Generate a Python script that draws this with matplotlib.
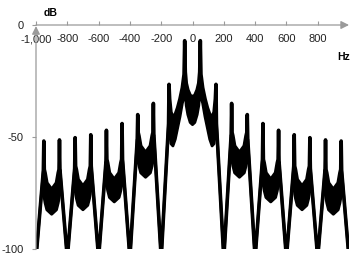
import matplotlib
matplotlib.use("Agg")
import matplotlib.pyplot as plt
import numpy as np

plt.rcParams['font.family'] = ['Liberation Sans', 'DejaVu Sans']

# right half of the spectrum (Hz); left half is its mirror
freq = [0, 15, 30, 40, 46, 50, 54, 65, 80, 95, 110, 125, 138, 146, 150, 153,
        200, 247, 250, 253, 258, 269, 300, 331, 342, 347, 350, 353,
        400, 447, 450, 453, 458, 469, 500, 531, 542, 547, 550, 553,
        600, 647, 650, 653, 658, 669, 700, 731, 742, 747, 750, 753,
        800, 847, 850, 853, 858, 869, 900, 931, 942, 947, 950, 953, 1000]
top_db = [-32, -31.5, -29, -26, -21, -7, -22, -28, -33, -37, -40, -41, -39, -33, -26.5, -44,
          -104, -49, -35, -48, -49.5, -54, -57, -54, -49.5, -48, -40, -51,
          -104, -60, -44, -60, -61.5, -66, -69, -66, -61.5, -60, -47, -61,
          -104, -63, -49, -63, -64.5, -69, -72, -69, -64.5, -63, -50.3, -64,
          -104, -64.5, -51.3, -64.5, -66, -70.5, -73.5, -70.5, -66, -64.5, -51.8, -65, -104]
bottom_db = [-44.5, -43.5, -40, -36, -31, -28, -32, -35, -41, -46, -51, -54, -53, -48, -45, -44,
             -104, -49, -50, -61, -63, -66, -68, -66, -63, -61, -58, -51,
             -104, -60, -70, -72, -74, -77, -79, -77, -74, -72, -70, -61,
             -104, -63, -73, -75.5, -77.5, -80.5, -82.5, -80.5, -77.5, -75.5, -73, -64,
             -104, -64.5, -75, -77.5, -79.5, -82.5, -84.5, -82.5, -79.5, -77.5, -75, -65, -104]

x_ticks = [-1000, -800, -600, -400, -200, 0, 200, 400, 600, 800]
x_labels = ['-1,000', '-800', '-600', '-400', '-200', '0', '200', '400', '600', '800']
y_ticks = [0, -50, -100]
y_labels = ['0', '-50', '-100']

f = np.array(freq, dtype=float)
x = np.concatenate([-f[::-1], f[1:]])
up = np.concatenate([np.array(top_db)[::-1], np.array(top_db)[1:]])
lo = np.concatenate([np.array(bottom_db)[::-1], np.array(bottom_db)[1:]])

gray = '#9a9a9a'
fig = plt.figure(figsize=(3.59, 2.67), dpi=100)
ax = fig.add_axes([36 / 359, 18 / 267, 313 / 359, 224 / 267])

ax.fill_between(x, lo, up, color='black', lw=0)
ax.plot(x, up, color='black', lw=2.6, solid_joinstyle='round')
ax.plot(x, lo, color='black', lw=2.0, solid_joinstyle='round')

ax.set_xlim(-1000, 1000)
ax.set_ylim(-100, 0)
for s in ax.spines.values():
    s.set_visible(False)

ax.set_xticks(x_ticks)
ax.set_xticklabels(x_labels)
ax.xaxis.set_ticks_position('top')
ax.tick_params(axis='x', top=True, bottom=False, labeltop=True, labelbottom=False,
               direction='out', length=3, width=0.8, color=gray, pad=-17,
               labelsize=8, labelcolor='#222222')
ax.set_yticks(y_ticks)
ax.set_yticklabels(y_labels)
ax.tick_params(axis='y', direction='out', length=3, width=0.8, color=gray, pad=6,
               labelsize=8, labelcolor='#222222')

arrow = dict(arrowstyle='-|>,head_length=0.6,head_width=0.3', color=gray, lw=0.9,
             mutation_scale=8, shrinkA=0, shrinkB=0)
ax.annotate('', xy=(1, 1), xytext=(0, 1), xycoords='axes fraction', arrowprops=arrow)
ax.annotate('', xy=(0, 0.995), xytext=(0, 0), xycoords='axes fraction', arrowprops=arrow)

fig.text(51 / 359, 1 - 12.7 / 267, 'dB', fontsize=7.5, fontweight='bold', ha='center', va='center')
fig.text(344 / 359, 1 - 56.7 / 267, 'Hz', fontsize=7.5, fontweight='bold', ha='center', va='center')

fig.savefig('out.png', dpi=100)
